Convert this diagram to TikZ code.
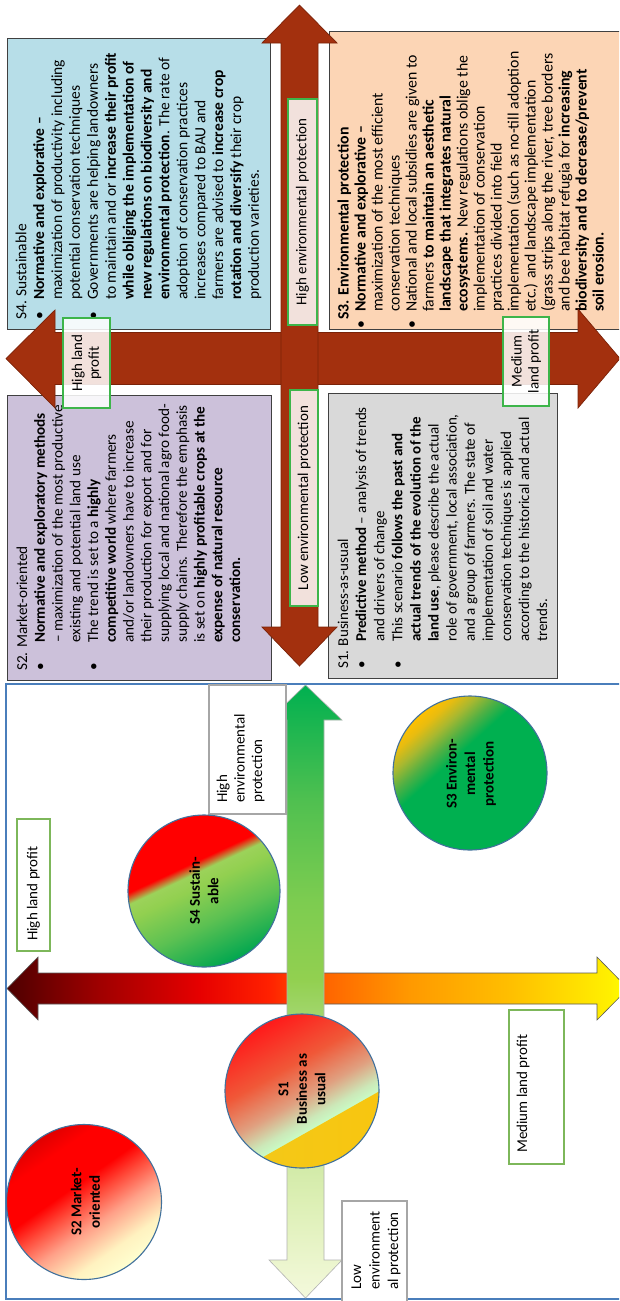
\documentclass[tikz,border=0pt]{standalone}
\usepackage{fontspec}
\setmainfont{Carlito}
\definecolor{s4col}{HTML}{B7DEE8}
\definecolor{s3col}{HTML}{FCD5B5}
\definecolor{s2col}{HTML}{CCC1DA}
\definecolor{s1col}{HTML}{D9D9D9}
\definecolor{boxedge}{HTML}{404040}
\definecolor{redarr}{HTML}{A3300E}
\definecolor{redarredge}{HTML}{7A2208}
\definecolor{lblgreen}{HTML}{3DB54A}
\definecolor{lblgreensoft}{HTML}{7DB75A}
\definecolor{lblgray}{HTML}{A6A6A6}
\definecolor{framecol}{HTML}{4A7EBB}
\definecolor{circedge}{HTML}{41719C}
% profit arrow
\definecolor{pa}{HTML}{4D0000}\definecolor{pb}{HTML}{A00000}\definecolor{pc}{HTML}{E60000}
\definecolor{pd}{HTML}{FF2000}\definecolor{pe}{HTML}{FF6600}\definecolor{pf}{HTML}{FF9900}
\definecolor{pg}{HTML}{FFBF00}\definecolor{ph}{HTML}{FFF000}\definecolor{pi}{HTML}{FFFF00}
% green arrow
\definecolor{ga}{HTML}{F4F9DC}\definecolor{gb}{HTML}{DCEFB4}\definecolor{gc}{HTML}{A8D878}
\definecolor{gd}{HTML}{92D050}\definecolor{ge}{HTML}{7CCC50}\definecolor{gf}{HTML}{50C050}
\definecolor{gg}{HTML}{00B050}
% circles
\definecolor{cFa}{HTML}{00A650}\definecolor{cFb}{HTML}{5CC152}\definecolor{cFc}{HTML}{92D050}
\definecolor{cFd}{HTML}{9CD25A}\definecolor{cFe}{HTML}{FF0000}
\definecolor{cTa}{HTML}{00B050}\definecolor{cTb}{HTML}{50B044}\definecolor{cTc}{HTML}{A8B830}
\definecolor{cTd}{HTML}{E8BC10}\definecolor{cTe}{HTML}{FFC000}
\definecolor{cSa}{HTML}{FFFFD0}\definecolor{cSb}{HTML}{FFF2C0}\definecolor{cSc}{HTML}{FFA088}
\definecolor{cSd}{HTML}{FF4838}\definecolor{cSe}{HTML}{FF0000}\definecolor{cSf}{HTML}{E00000}
\definecolor{cOa}{HTML}{C8FFC8}\definecolor{cOb}{HTML}{CCE8B8}\definecolor{cOc}{HTML}{E0A080}
\definecolor{cOd}{HTML}{F05838}\definecolor{cOe}{HTML}{FF1A1A}
\definecolor{cOo}{HTML}{F0CC20}\definecolor{cOp}{HTML}{FFBF00}

\pgfdeclarehorizontalshading{profitshade}{100bp}{color(0bp)=(pa); color(25bp)=(pa); color(32.5bp)=(pb); color(40.5bp)=(pc); color(46bp)=(pd); color(50.8bp)=(pe); color(57.4bp)=(pf); color(65.5bp)=(pg); color(73.5bp)=(ph); color(75bp)=(pi); color(100bp)=(pi)}
\pgfdeclareverticalshading{envshade}{100bp}{color(0bp)=(ga); color(25bp)=(ga); color(33bp)=(gb); color(46.85bp)=(gc); color(51bp)=(gd); color(57.5bp)=(ge); color(65.5bp)=(gf); color(75bp)=(gg); color(100bp)=(gg)}
\pgfdeclareverticalshading{sfourshade}{100bp}{color(0bp)=(cFa); color(25bp)=(cFa); color(40bp)=(cFb); color(52bp)=(cFc); color(56.5bp)=(cFd); color(60bp)=(cFe); color(100bp)=(cFe)}
\pgfdeclareverticalshading{sthreeshade}{100bp}{color(0bp)=(cTa); color(57bp)=(cTa); color(62bp)=(cTb); color(67bp)=(cTc); color(71.5bp)=(cTd); color(75bp)=(cTe); color(100bp)=(cTe)}
\pgfdeclareverticalshading{stwoshade}{100bp}{color(0bp)=(cSa); color(25bp)=(cSa); color(32bp)=(cSb); color(42bp)=(cSc); color(50bp)=(cSd); color(56bp)=(cSe); color(68bp)=(cSe); color(75bp)=(cSf); color(100bp)=(cSf)}
\pgfdeclareverticalshading{soneshade}{100bp}{color(0bp)=(cOa); color(37bp)=(cOa); color(41bp)=(cOb); color(48bp)=(cOc); color(59bp)=(cOd); color(75bp)=(cOe); color(100bp)=(cOe)}

\newcommand\mybu[2]{\makebox[#2][l]{\hspace*{#1}\textbullet}}
\newcommand\myct[1]{\makebox[#1]{}}
\newcommand\bA{\mybu{0pt}{20pt}}\newcommand\iA{\myct{20pt}}
\newcommand\bB{\mybu{0pt}{28pt}}\newcommand\iB{\myct{28pt}}
\newcommand\bC{\mybu{0pt}{27pt}}\newcommand\iC{\myct{27pt}}
\newcommand\bD{\mybu{-9pt}{8pt}}\newcommand\iD{\myct{8pt}}

\begin{document}
\begin{tikzpicture}[x=1pt,y=-1pt,
  boxshape/.style={draw=boxedge,line width=1.1pt,inner sep=0pt,anchor=north west},
  boxtext/.style={rotate=90,anchor=west,align=left,inner sep=0pt,text=black},
  redlabel/.style={rotate=90,draw=lblgreen,line width=1.1pt,fill=white,fill opacity=0.86,text opacity=1,inner sep=0pt,align=center,font=\fontsize{15}{17}\selectfont},
  axisbox/.style={rotate=90,line width=1.1pt,fill=white,inner sep=0pt},
  axistext/.style={rotate=90,anchor=west,align=left,inner sep=0pt},
  circtext/.style={rotate=90,align=center,inner sep=0pt,font=\fontsize{15}{18.5}\selectfont\bfseries},
  redarrow/.style={fill=redarr,draw=redarredge,line width=0.7pt,line join=miter},
  circline/.style={draw=circedge,line width=1.1pt}
]
\useasboundingbox (0,0) rectangle (619,1301);
\clip (0,0) rectangle (619,1301);
\fill[white] (0,0) rectangle (619,1301);

% ---------- upper part: four scenario boxes ----------
\node[boxshape,fill=s4col,minimum width=263pt,minimum height=291pt] (s4box) at (7,38) {};
\node[boxshape,fill=s3col,minimum width=296pt,minimum height=298pt] (s3box) at (329,31) {};
\node[boxshape,fill=s2col,minimum width=264pt,minimum height=285pt] (s2box) at (7,395) {};
\node[boxshape,fill=s1col,minimum width=229pt,minimum height=285pt] (s1box) at (328,393) {};

\node[boxtext,font=\fontsize{15.5}{17.9}\selectfont] (s4text) at (138.5,320) {%
S4. Sustainable\\
\bA\textbf{Normative and explorative –}\\
\iA maximization of productivity including\\
\iA potential conservation techniques\\
\bA Governments are helping landowners\\
\iA to maintain and or \textbf{increase their profit}\\
\iA\textbf{while obliging the implementation of}\\
\iA\textbf{new regulations on biodiversity and}\\
\iA\textbf{environmental protection}. The rate of\\
\iA adoption of conservation practices\\
\iA increases compared to BAU and\\
\iA farmers are advised to \textbf{increase crop}\\
\iA\textbf{rotation and diversify} their crop\\
\iA production varieties.};

\node[boxtext,font=\fontsize{15.2}{17.75}\selectfont] (s2text) at (128.5,671) {%
S2. Market-oriented\\
\bB\textbf{Normative and exploratory methods}\\
\iB – maximization of the most productive\\
\iB existing and potential land use\\
\bB The trend is set to a \textbf{highly}\\
\iB\textbf{competitive world} where farmers\\
\iB and/or landowners have to increase\\
\iB their production for export and for\\
\iB supplying local and national agro food-\\
\iB supply chains. Therefore the emphasis\\
\iB is set on \textbf{highly profitable crops at the}\\
\iB\textbf{expense of natural resource}\\
\iB\textbf{conservation.}};

\node[boxtext,font=\fontsize{15}{18.1}\selectfont] (s1text) at (442.5,669) {%
S1. Business-as-usual\\
\bC\textbf{Predictive method} – analysis of trends\\
\iC and drivers of change\\
\bC This scenario \textbf{follows the past and}\\
\iC\textbf{actual trends of the evolution of the}\\
\iC\textbf{land use}, please describe the actual\\
\iC role of government, local association,\\
\iC and a group of farmers. The state of\\
\iC implementation of soil and water\\
\iC conservation techniques is applied\\
\iC according to the historical and actual\\
\iC trends.};

\node[boxtext,font=\fontsize{15.8}{17}\selectfont] (s3text) at (470.5,320) {%
\textbf{S3. Environmental protection}\\
\bD\textbf{Normative and explorative –}\\
\iD maximization of the most efficient\\
\iD conservation techniques\\
\bD National and local subsidies are given to\\
\iD farmers \textbf{to maintain an aesthetic}\\
\iD\textbf{landscape that integrates natural}\\
\iD\textbf{ecosystems.} New regulations oblige the\\
\iD implementation of conservation\\
\iD practices divided into field\\
\iD implementation (such as no-till adoption\\
\iD etc.) and landscape implementation\\
\iD (grass strips along the river, tree borders\\
\iD and bee habitat refugia for \textbf{increasing}\\
\iD\textbf{biodiversity and to decrease/prevent}\\
\iD\textbf{soil erosion.}};

% ---------- red cross arrows ----------
\filldraw[redarrow] (6,358.5) -- (55,310) -- (55,332.5) -- (578,332.5) -- (578,309) -- (620,358.5)
  -- (578,408) -- (578,384.5) -- (55,384.5) -- (55,408) -- cycle;
\filldraw[redarrow] (299.5,5) -- (337,43) -- (318,43) -- (318,627) -- (337,627) -- (299.5,666)
  -- (262,627) -- (281,627) -- (281,43) -- (262,43) -- cycle;

\node[redlabel,minimum width=226pt,minimum height=29pt] (hepA) at (302.5,212) {High environmental protection};
\node[redlabel,minimum width=216pt,minimum height=28pt] (lepA) at (304,498) {Low environmental protection};
\node[redlabel,minimum width=90pt,minimum height=47pt] (hlpA) at (86.5,363) {High land\\profit};
\node[redlabel,minimum width=89pt,minimum height=46pt] (mlpA) at (526,361.5) {Medium\\land profit};

% ---------- lower part: scenario map ----------
\draw[framecol,line width=1.1pt] (625,684) -- (6,684) -- (6,1299) -- (625,1299);

\shade[shading=profitshade,draw=gray!70!black,line width=0.6pt] (7,988.5) -- (38,957) -- (38,973) -- (597,973) -- (597,957) -- (628,988.5)
  -- (597,1020) -- (597,1004) -- (38,1004) -- (38,1020) -- cycle;
\shade[shading=envshade,draw=gray!60,line width=0.6pt] (305.5,685) -- (342,720) -- (324,720) -- (324,1260) -- (342,1260) -- (305.5,1298)
  -- (269,1260) -- (287,1260) -- (287,720) -- (269,720) -- cycle;

\node[axisbox,draw=lblgreensoft,minimum width=132pt,minimum height=33pt] (hlpB) at (33.5,885) {};
\node[axistext,font=\fontsize{15}{17.5}\selectfont] (hlpBt) at (33.5,941) {High land profit};
\node[axisbox,draw=lblgray,minimum width=129pt,minimum height=77pt] (hepB) at (247.5,749.5) {};
\node[axistext,font=\fontsize{15}{17.5}\selectfont] (hepBt) at (240.5,803) {High\\environmental\\protection};
\node[axisbox,draw=lblgreensoft,minimum width=154pt,minimum height=55pt] (mlpB) at (536.5,1087) {};
\node[axistext,font=\fontsize{15}{17.5}\selectfont] (mlpBt) at (523,1153) {Medium land profit};
\node[axisbox,draw=lblgray,minimum width=101pt,minimum height=65pt] (lepB) at (374.5,1251.5) {};
\node[axistext,font=\fontsize{15}{18.5}\selectfont] (lepBt) at (376,1290) {Low\\environment\\al protection};

% circles
\shade[shading=sfourshade,shading angle=25] (204,891) circle[radius=76];
\draw[circline] (204,891) circle[radius=76];
\node[circtext] (s4lbl) at (204,891) {S4 Sustain-\\able};

\shade[shading=sthreeshade,shading angle=42] (470,773) circle[radius=77];
\draw[circline] (470,773) circle[radius=77];
\node[circtext] (s3lbl) at (471,774) {S3 Environ-\\mental\\protection};

\shade[shading=stwoshade,shading angle=35] (84,1202) circle[radius=77.5];
\draw[circline] (84,1202) circle[radius=77.5];
\node[circtext] (s2lbl) at (85.5,1202) {S2 Market-\\oriented};

\shade[shading=soneshade,shading angle=29.5] (302,1091) circle[radius=77];
\begin{scope}
  \clip (302,1091) circle[radius=77];
  \shade[left color=cOo,right color=cOp] (152,1220) -- (491,1028) -- (590,1202) -- (251,1394) -- cycle;
\end{scope}
\draw[circline] (302,1091) circle[radius=77];
\node[circtext] (s1lbl) at (302,1089) {S1\\Business as\\usual};
\end{tikzpicture}
\end{document}
